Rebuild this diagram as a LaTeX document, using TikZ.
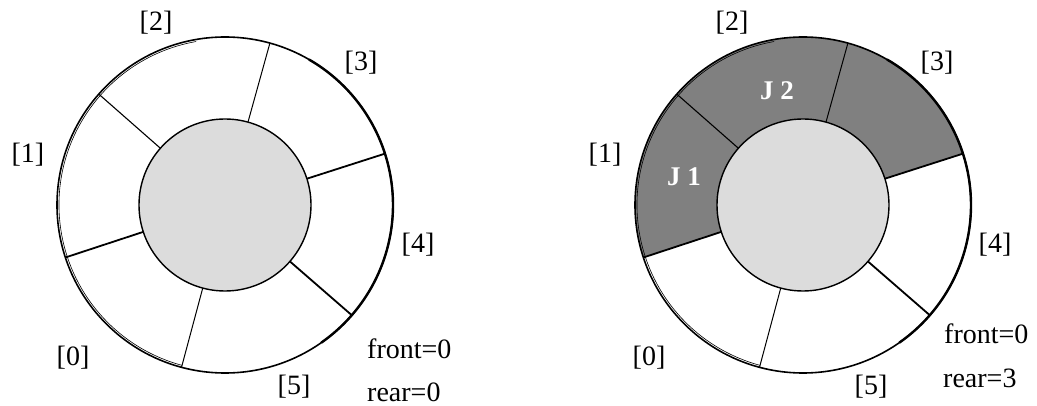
\documentclass[tikz,border=0pt]{standalone}
\usepackage{fontspec}
\setmainfont{Liberation Serif}
\begin{document}
\begin{tikzpicture}[x=1pt,y=-1pt,
  lbl/.style={font=\fontsize{28}{34}\selectfont, inner sep=0pt},
  jlbl/.style={font=\fontsize{27}{32}\selectfont\bfseries, text=white, inner sep=0pt},
  thinline/.style={line width=1pt},
  thickline/.style={line width=1.8pt},
  hub/.style={fill=hubgray, line width=1.4pt},
  slotfill/.style={fill=slotgray}]
\definecolor{hubgray}{HTML}{DCDCDC}
\definecolor{slotgray}{HTML}{808080}
\useasboundingbox (0,0) rectangle (1037,406);
% ---------- left ring ----------
\coordinate (cl) at (225,205);
\draw[line width=1.6pt] (cl) circle[radius=168];
\draw[line width=2.4pt] (cl) ++(-60:168) arc[start angle=-60,end angle=55,radius=168];
\draw[line width=0.6pt] (cl) ++(-100:166) arc[start angle=-100,end angle=-255,radius=166];
\draw[thickline] (cl) ++(-17.8:86) -- ++(-17.8:82);
\draw[thinline]  (cl) ++(-74.5:86) -- ++(-74.5:82);
\draw[line width=1.1pt] (cl) ++(-138.7:86) -- ++(-138.7:82);
\draw[thickline] (cl) ++(-198.2:86) -- ++(-198.2:82);
\draw[thinline]  (cl) ++(-255:86) -- ++(-255:82);
\draw[thickline] (cl) ++(-319:86) -- ++(-319:82);
\draw[hub] (cl) circle[radius=86];
\node[lbl] (l2) at (156,23) {[2]};
\node[lbl] (l3) at (361,63) {[3]};
\node[lbl] (l1) at (28,155) {[1]};
\node[lbl] (l4) at (418,245) {[4]};
\node[lbl] (l0) at (73,358) {[0]};
\node[lbl] (l5) at (294,387) {[5]};
\node[lbl, anchor=base west] (lf) at (367,358) {front=0};
\node[lbl, anchor=base west] (lr) at (367,401) {rear=0};
% ---------- right ring ----------
\coordinate (cr) at (803,205);
\fill[slotfill] (cr) -- ++(-17.8:168) arc[start angle=-17.8,end angle=-198.2,radius=168] -- cycle;
\draw[line width=1.6pt] (cr) circle[radius=168];
\draw[line width=2.4pt] (cr) ++(-60:168) arc[start angle=-60,end angle=55,radius=168];
\draw[line width=0.6pt] (cr) ++(-100:166) arc[start angle=-100,end angle=-255,radius=166];
\draw[thickline] (cr) ++(-17.8:86) -- ++(-17.8:82);
\draw[thinline]  (cr) ++(-74.5:86) -- ++(-74.5:82);
\draw[line width=1.1pt] (cr) ++(-138.7:86) -- ++(-138.7:82);
\draw[thickline] (cr) ++(-198.2:86) -- ++(-198.2:82);
\draw[thinline]  (cr) ++(-255:86) -- ++(-255:82);
\draw[thickline] (cr) ++(-319:86) -- ++(-319:82);
\draw[hub] (cr) circle[radius=86];
\node[jlbl] (j1) at (684,177) {J 1};
\node[jlbl] (j2) at (777,91) {J 2};
\node[lbl] (r2) at (732,23) {[2]};
\node[lbl] (r3) at (937,63) {[3]};
\node[lbl] (r1) at (605,155) {[1]};
\node[lbl] (r4) at (995,245) {[4]};
\node[lbl] (r0) at (649,358) {[0]};
\node[lbl] (r5) at (871,387) {[5]};
\node[lbl, anchor=base west] (rf) at (944,343) {front=0};
\node[lbl, anchor=base west] (rr) at (943,388) {rear=3};
\end{tikzpicture}
\end{document}
